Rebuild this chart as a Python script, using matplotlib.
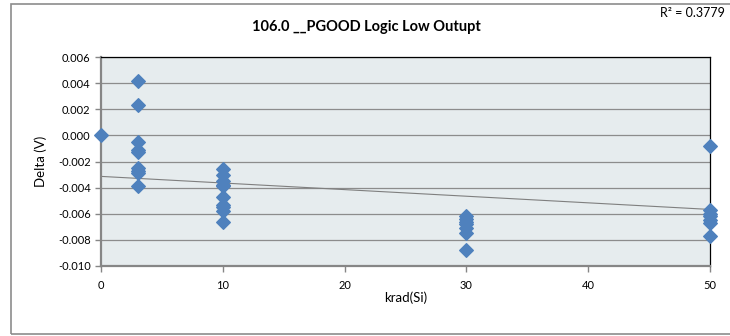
import numpy as np
import matplotlib
matplotlib.use('Agg')
import matplotlib.pyplot as plt
from matplotlib.patches import Rectangle

plt.rcParams['font.family'] = ['Lato', 'DejaVu Sans']

# krad(Si) dose levels and the measured deltas (V)
dose_0 = [0.0]
delta_0 = [0.0]
dose_3 = [3] * 9
delta_3 = [0.0042, 0.0023, -0.0005, -0.0011, -0.0013, -0.0025, -0.0027, -0.0029, -0.0039]
dose_10 = [10] * 10
delta_10 = [-0.0026, -0.0030, -0.0035, -0.0038, -0.0039, -0.0047, -0.0053, -0.0055, -0.0058, -0.0066]
dose_30 = [30] * 7
delta_30 = [-0.0062, -0.0064, -0.0066, -0.0068, -0.0071, -0.0075, -0.0088]
dose_50 = [50] * 7
delta_50 = [-0.0008, -0.0057, -0.0060, -0.0062, -0.0065, -0.0067, -0.0077]

# trendline as shown in the chart (R^2 = 0.3779)
trend_intercept = -0.00314
trend_slope = -0.0000506

x = np.array(dose_0 + dose_3 + dose_10 + dose_30 + dose_50, dtype=float)
y = np.array(delta_0 + delta_3 + delta_10 + delta_30 + delta_50)

fig = plt.figure(figsize=(7.3, 3.36), dpi=100)
fig.patches.append(Rectangle((11 / 730, 2 / 336), 1.0, 330 / 336, transform=fig.transFigure,
                             fill=False, edgecolor='#8c8c8c', linewidth=1.2))

ax = fig.add_axes([101 / 730, 1 - 266 / 336, 609 / 730, 209 / 336])
ax.set_facecolor('#e6ecee')

ax.set_xlim(0, 50)
ax.set_ylim(-0.010, 0.006)
yt = np.arange(-0.010, 0.0061, 0.002)
ax.set_yticks(yt)
ax.set_yticklabels([f'{v:.3f}'.replace('-0.000', '0.000') for v in yt])
ax.set_xticks([0, 10, 20, 30, 40, 50])
ax.grid(axis='y', color='#8c8c8c', linewidth=0.9)
ax.set_axisbelow(True)

xs = np.array([0, 50])
ax.plot(xs, trend_intercept + trend_slope * xs, color='#7f7f7f', linewidth=0.8, zorder=2)

ax.scatter(x, y, marker='D', s=48, color='#4f81bd', zorder=3, clip_on=False)

for s in ['left', 'bottom']:
    ax.spines[s].set_color('#868686')
    ax.spines[s].set_linewidth(1.6)
for s in ['top', 'right']:
    ax.spines[s].set_color('black')
    ax.spines[s].set_linewidth(0.9)

ax.tick_params(axis='both', colors='#868686', labelcolor='black', labelsize=8, length=4, width=1)
ax.tick_params(axis='x', pad=6)

ax.set_xlabel('krad(Si)', fontsize=9.5)
ax.xaxis.set_label_coords(0.5, -(298 - 266) / 209, transform=ax.transAxes)
ax.set_ylabel('Delta (V)', fontsize=9.5)
ax.yaxis.set_label_coords(-(101 - 41) / 609, 0.5, transform=ax.transAxes)
ax.xaxis.label.set_va('center')
ax.yaxis.label.set_va('center')

fig.text(366 / 730, 1 - 27 / 336, '106.0 __PGOOD Logic Low Outupt', ha='center', va='center',
         fontsize=10.5, fontweight='bold')
fig.text(725 / 730, 1 - 13 / 336, 'R² = 0.3779', ha='right', va='center', fontsize=9)

fig.savefig('out.png', dpi=100)
